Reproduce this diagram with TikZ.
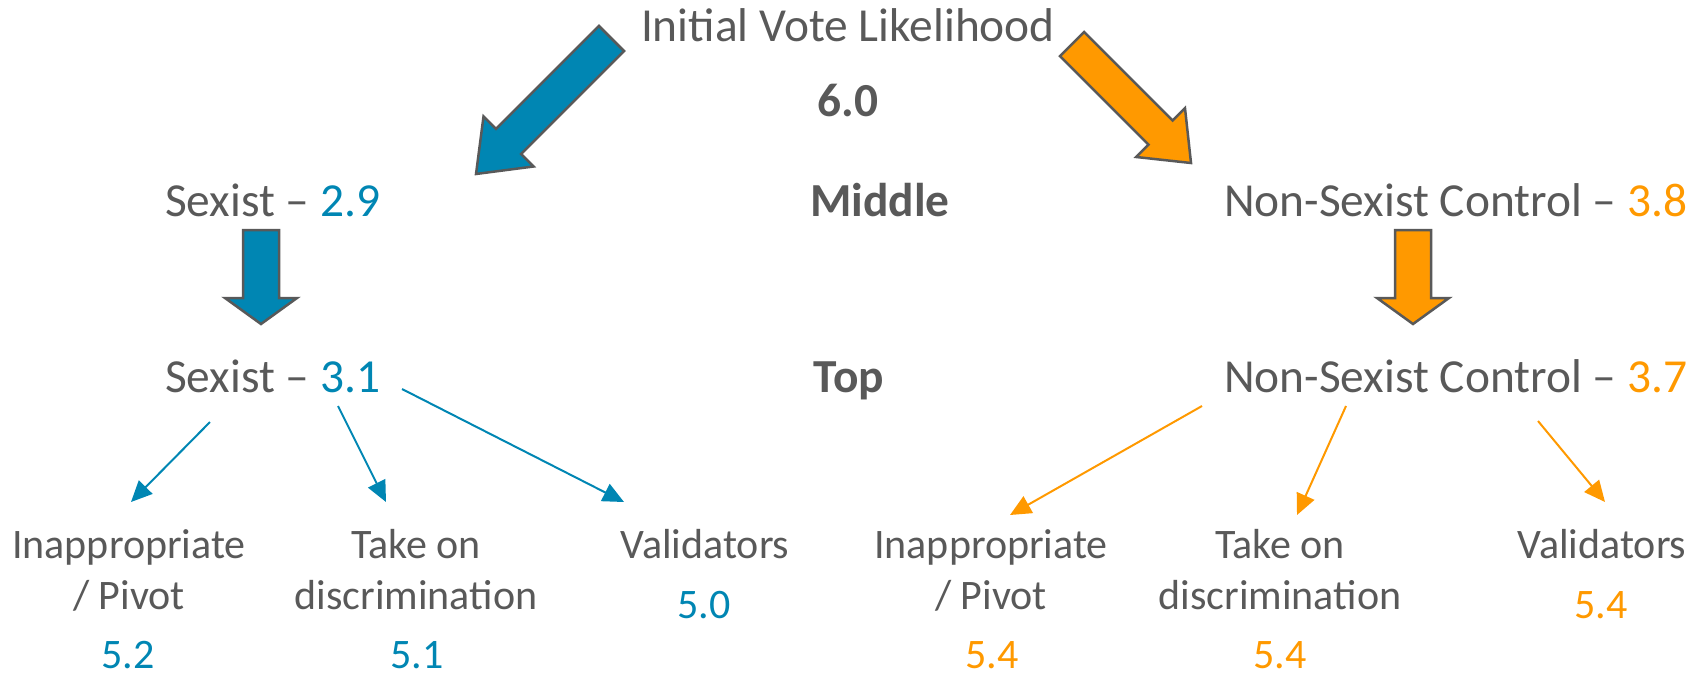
\documentclass[tikz,border=0pt]{standalone}
\usepackage{fontspec}
\setmainfont{Carlito}
\usetikzlibrary{arrows.meta}
\definecolor{sexblue}{RGB}{0,134,179}
\definecolor{ctlorange}{RGB}{255,153,0}
\definecolor{txtgray}{RGB}{89,89,89}
\tikzset{
  lbl/.style={inner sep=0pt, text=txtgray, font=\fontsize{47.4}{57}\selectfont},
  leaf/.style={inner sep=0pt, text=txtgray, align=center, font=\fontsize{42}{51}\selectfont},
  bigarrow/.style={draw=txtgray, line width=2.5pt},
  sexline/.style={draw=sexblue, line width=2pt, -{Triangle[length=21pt,width=19pt]}},
  ctlline/.style={draw=ctlorange, line width=2pt, -{Triangle[length=21pt,width=19pt]}},
}
\begin{document}
\begin{tikzpicture}[x=1pt,y=-1pt]
    \useasboundingbox (0,0) rectangle (1704,678);
    % headings
    \node[lbl, anchor=base] (init) at (848,41) {Initial Vote Likelihood};
    \node[lbl, anchor=base, font=\fontsize{47.4}{57}\selectfont\bfseries] (initval) at (848,116) {6.0};
    \node[lbl, anchor=base west] (midsex) at (165,216) {Sexist -- \textcolor{sexblue}{2.9}};
    \node[lbl, anchor=base west, font=\fontsize{47.4}{57}\selectfont\bfseries] (mid) at (810,216) {Middle};
    \node[lbl, anchor=base west] (midctl) at (1224,216) {Non-Sexist Control -- \textcolor{ctlorange}{3.8}};
    \node[lbl, anchor=base west] (topsex) at (165,392) {Sexist -- \textcolor{sexblue}{3.1}};
    \node[lbl, anchor=base, font=\fontsize{47.4}{57}\selectfont\bfseries] (top) at (849,392) {Top};
    \node[lbl, anchor=base west] (topctl) at (1224,392) {Non-Sexist Control -- \textcolor{ctlorange}{3.7}};
    % leaves (base = last line)
    \node[leaf, anchor=base] (sexinap) at (129,609) {Inappropriate\\/ Pivot};
    \node[leaf, anchor=base] (sexdisc) at (416,609) {Take on\\discrimination};
    \node[leaf, anchor=base] (sexval) at (705,558) {Validators};
    \node[leaf, anchor=base] (ctlinap) at (991,609) {Inappropriate\\/ Pivot};
    \node[leaf, anchor=base] (ctldisc) at (1280,609) {Take on\\discrimination};
    \node[leaf, anchor=base] (ctlval) at (1602,558) {Validators};
    \node[leaf, anchor=base, text=sexblue] (sexinapv) at (128,668) {5.2};
    \node[leaf, anchor=base, text=sexblue] (sexdiscv) at (417,668) {5.1};
    \node[leaf, anchor=base, text=sexblue] (sexvalv) at (704,618) {5.0};
    \node[leaf, anchor=base, text=ctlorange] (ctlinapv) at (992,668) {5.4};
    \node[leaf, anchor=base, text=ctlorange] (ctldiscv) at (1280,668) {5.4};
    \node[leaf, anchor=base, text=ctlorange] (ctlvalv) at (1601,618) {5.4};
    % big arrows
    \begin{scope}[shift={(611.5,38.5)}, rotate=-135]
        \draw[bigarrow, fill=sexblue] (0,-17.7) -- (145.6,-17.7) -- (145.6,-35.4) -- (191.6,0) -- (145.6,35.4) -- (145.6,17.7) -- (0,17.7) -- cycle;
    \end{scope}
    \begin{scope}[shift={(1072,44)}, rotate=-45]
        \draw[bigarrow, fill=ctlorange] (0,-17) -- (125.3,-17) -- (125.3,-34.5) -- (168.3,0) -- (125.3,34.5) -- (125.3,17) -- (0,17) -- cycle;
    \end{scope}
    \begin{scope}[shift={(261,230)}, rotate=-90]
        \draw[bigarrow, fill=sexblue] (0,-18) -- (68,-18) -- (68,-36) -- (94,0) -- (68,36) -- (68,18) -- (0,18) -- cycle;
    \end{scope}
    \begin{scope}[shift={(1413,230)}, rotate=-90]
        \draw[bigarrow, fill=ctlorange] (0,-18) -- (68,-18) -- (68,-36) -- (94,0) -- (68,36) -- (68,18) -- (0,18) -- cycle;
    \end{scope}
    % small arrows
    \coordinate (sexo1) at (210,422);
    \coordinate (sexo2) at (338,406);
    \coordinate (sexo3) at (402,389);
    \coordinate (sexi1) at (131,502);
    \coordinate (sexi2) at (386,502);
    \coordinate (sexi3) at (624,502);
    \coordinate (ctlo1) at (1202,406);
    \coordinate (ctlo2) at (1346,406);
    \coordinate (ctlo3) at (1538,421);
    \coordinate (ctli1) at (1010,515);
    \coordinate (ctli2) at (1297,515);
    \coordinate (ctli3) at (1605,502);
    \draw[sexline] (sexo1) -- (sexi1);
    \draw[sexline] (sexo2) -- (sexi2);
    \draw[sexline] (sexo3) -- (sexi3);
    \draw[ctlline] (ctlo1) -- (ctli1);
    \draw[ctlline] (ctlo2) -- (ctli2);
    \draw[ctlline] (ctlo3) -- (ctli3);
\end{tikzpicture}
\end{document}
